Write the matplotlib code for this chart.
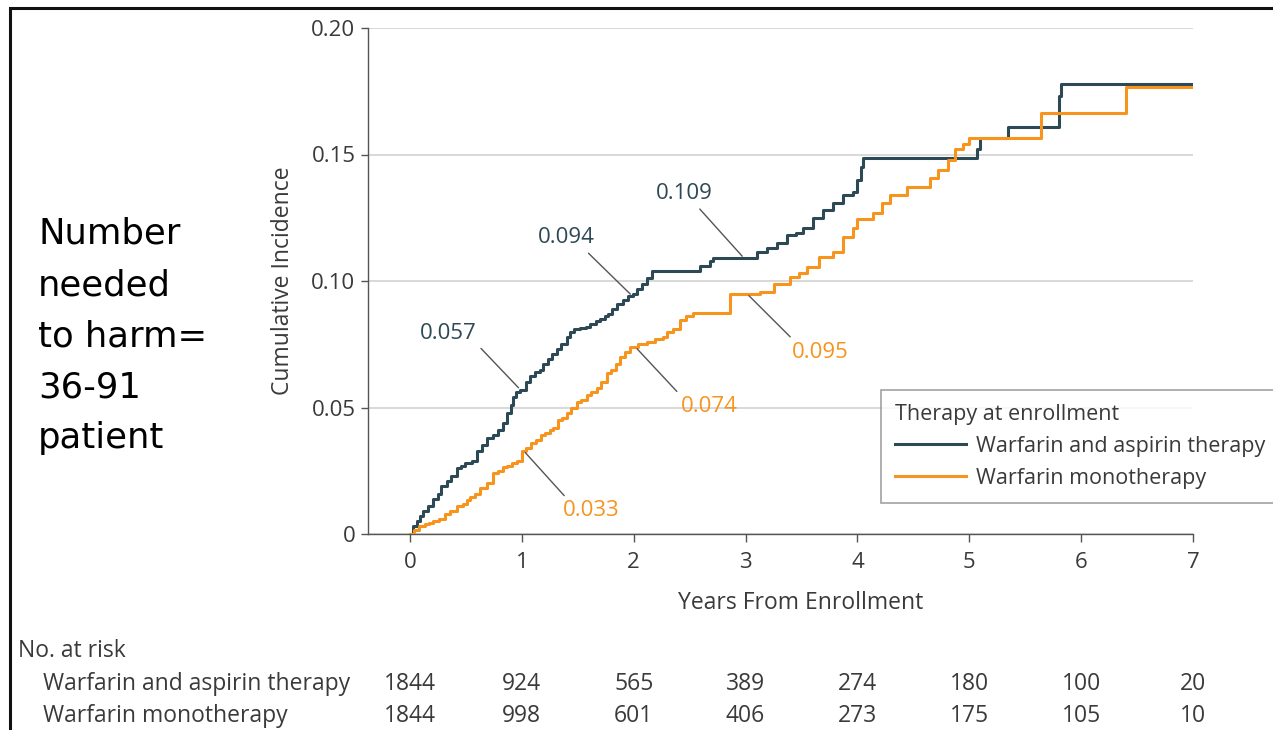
import matplotlib
matplotlib.use("Agg")
import matplotlib.pyplot as plt
from matplotlib.patches import Rectangle

plt.rcParams["font.family"] = ["Open Sans", "DejaVu Sans"]

DARK = "#2d4955"
ORANGE = "#f7941d"
INK = "#3a3a3a"

# cumulative incidence curves (step, post)
combo_t = [0, 0.03, 0.06, 0.09, 0.12, 0.16, 0.21, 0.25, 0.28, 0.33, 0.37, 0.42, 0.46, 0.49,
           0.55, 0.60, 0.64, 0.69, 0.74, 0.79, 0.83, 0.87, 0.90, 0.92, 0.95, 0.98, 1.04,
           1.07, 1.12, 1.16, 1.19, 1.23, 1.27, 1.31, 1.35, 1.40, 1.43, 1.47, 1.52, 1.57,
           1.61, 1.66, 1.70, 1.74, 1.77, 1.81, 1.85, 1.90, 1.95, 1.99, 2.03, 2.07, 2.12,
           2.16, 2.59, 2.68, 2.71, 3.10, 3.19, 3.28, 3.37, 3.45, 3.51, 3.60, 3.69, 3.78,
           3.87, 3.96, 4.0, 4.03, 4.05, 5.07, 5.10, 5.35, 5.80, 5.82, 7.0]
combo_y = [0, 0.003, 0.005, 0.007, 0.009, 0.011, 0.014, 0.016, 0.019, 0.021, 0.023, 0.026,
           0.027, 0.028, 0.029, 0.033, 0.035, 0.038, 0.039, 0.041, 0.044, 0.048, 0.051,
           0.054, 0.056, 0.057, 0.060, 0.0625, 0.064, 0.065, 0.067, 0.069, 0.071, 0.073,
           0.075, 0.078, 0.080, 0.081, 0.0815, 0.082, 0.083, 0.084, 0.085, 0.086, 0.087,
           0.089, 0.091, 0.0925, 0.094, 0.095, 0.097, 0.099, 0.101, 0.104, 0.106, 0.108,
           0.109, 0.1115, 0.113, 0.115, 0.118, 0.119, 0.121, 0.125, 0.128, 0.131, 0.134,
           0.135, 0.140, 0.145, 0.1485, 0.152, 0.1565, 0.161, 0.173, 0.178, 0.178]
mono_t = [0, 0.04, 0.08, 0.13, 0.17, 0.21, 0.26, 0.31, 0.36, 0.42, 0.47, 0.51, 0.54, 0.58,
          0.63, 0.69, 0.74, 0.79, 0.83, 0.87, 0.91, 0.96, 1.0, 1.04, 1.08, 1.13, 1.17, 1.21,
          1.25, 1.28, 1.32, 1.36, 1.40, 1.44, 1.49, 1.53, 1.58, 1.62, 1.67, 1.71, 1.76,
          1.80, 1.84, 1.88, 1.92, 1.97, 2.04, 2.12, 2.19, 2.26, 2.30, 2.35, 2.41, 2.47,
          2.53, 2.86, 3.13, 3.25, 3.40, 3.48, 3.55, 3.66, 3.78, 3.87, 3.96, 4.0, 4.14,
          4.22, 4.29, 4.44, 4.65, 4.72, 4.81, 4.87, 4.94, 5.0, 5.64, 6.40, 7.0]
mono_y = [0, 0.0015, 0.003, 0.004, 0.0045, 0.005, 0.006, 0.008, 0.009, 0.011, 0.012,
          0.0135, 0.0146, 0.016, 0.018, 0.020, 0.024, 0.025, 0.0265, 0.027, 0.028, 0.029,
          0.033, 0.034, 0.036, 0.037, 0.039, 0.040, 0.041, 0.042, 0.045, 0.046, 0.048,
          0.050, 0.052, 0.053, 0.055, 0.056, 0.0577, 0.060, 0.0636, 0.065, 0.067, 0.070,
          0.072, 0.074, 0.075, 0.076, 0.077, 0.078, 0.080, 0.081, 0.0846, 0.086, 0.0873,
          0.095, 0.0957, 0.099, 0.1016, 0.103, 0.1055, 0.1095, 0.1115, 0.1174, 0.121,
          0.1245, 0.127, 0.131, 0.134, 0.137, 0.1407, 0.144, 0.148, 0.152, 0.154, 0.1565,
          0.1664, 0.1767, 0.1767]

# labelled values at 1, 2, 3 years
label_years = [1, 2, 3]
combo_marks = [0.057, 0.094, 0.109]
mono_marks = [0.033, 0.074, 0.095]

years = [0, 1, 2, 3, 4, 5, 6, 7]
risk_combo = [1844, 924, 565, 389, 274, 180, 100, 20]
risk_mono = [1844, 998, 601, 406, 273, 175, 105, 10]
y_ticks = [0, 0.05, 0.10, 0.15, 0.20]
y_ticklabels = ["0", "0.05", "0.10", "0.15", "0.20"]
names = ["Warfarin and aspirin therapy", "Warfarin monotherapy"]

fig = plt.figure(figsize=(12.73, 7.30), dpi=100)
ax = fig.add_axes([368 / 1273, 1 - 534 / 730, 825 / 1273, 506 / 730])

ax.step(combo_t, combo_y, where="post", color=DARK, lw=2.2, zorder=3, label=names[0])
ax.step(mono_t, mono_y, where="post", color=ORANGE, lw=2.2, zorder=3, label=names[1])

ax.set_xlim(-0.3755, 7)
ax.set_ylim(0, 0.20)
ax.set_xticks(years)
ax.set_yticks(y_ticks)
ax.set_yticklabels(y_ticklabels)
ax.grid(axis="y", color="#d6d6d6", lw=1.3, zorder=0)
for s in ("top", "right"):
    ax.spines[s].set_visible(False)
for s in ("left", "bottom"):
    ax.spines[s].set_color("#555555")
    ax.spines[s].set_linewidth(1.0)
ax.tick_params(axis="y", length=5, width=1, color="#555555", pad=4, labelsize=16, labelcolor=INK)
ax.tick_params(axis="x", length=6, width=1, color="#555555", pad=7, labelsize=16, labelcolor=INK)

ax.set_xlabel("Years From Enrollment", fontsize=16.5, color=INK)
ax.set_ylabel("Cumulative Incidence", fontsize=16.5, color=INK)
ax.xaxis.set_label_coords(0.525, -0.113)
ax.yaxis.set_label_coords(-0.088, 0.5)

# leader-line labels: (text x, text y, relpos)
combo_txt = [(0.34, 0.0794, (1.0, 0.0)), (1.40, 0.117, (0.8, 0.0)), (2.45, 0.1345, (0.7, 0.0))]
mono_txt = [(1.62, 0.0091, (0.1, 1.0)), (2.68, 0.0503, (0.0, 1.0)), (3.67, 0.0719, (0.05, 1.0))]
for yr, v, (tx, ty, rp) in zip(label_years, combo_marks, combo_txt):
    ax.annotate(f"{v:.3f}", xy=(yr - 0.03, v + 0.0008), xytext=(tx, ty), ha="center", va="center",
                fontsize=16, color=DARK, zorder=4,
                arrowprops=dict(arrowstyle="-", color="#555555", lw=1.0, relpos=rp,
                                shrinkA=2, shrinkB=0))
for yr, v, (tx, ty, rp) in zip(label_years, mono_marks, mono_txt):
    ax.annotate(f"{v:.3f}", xy=(yr + 0.03, v - 0.0008), xytext=(tx, ty), ha="center", va="center",
                fontsize=16, color=ORANGE, zorder=4,
                arrowprops=dict(arrowstyle="-", color="#555555", lw=1.0, relpos=rp,
                                shrinkA=2, shrinkB=0))

leg = ax.legend(loc="upper left", bbox_to_anchor=(881 / 1273, 1 - 390 / 730),
                bbox_transform=fig.transFigure, title="Therapy at enrollment",
                fontsize=15.5, title_fontsize=15.5, frameon=True, fancybox=False,
                edgecolor="#8a8a8a", handlelength=3.3, handletextpad=0.45,
                borderpad=0.65, labelspacing=0.5, borderaxespad=0, alignment="left")
leg.get_frame().set_linewidth(1.2)
for t in leg.get_texts():
    t.set_color(INK)
leg.get_title().set_color(INK)

# number at risk table
xt = ax.get_xaxis_transform()
ax.text(-0.424, -0.231, "No. at risk", transform=ax.transAxes, fontsize=16.5, color=INK,
        ha="left", va="center")
for row, (name, counts) in enumerate(zip(names, [risk_combo, risk_mono])):
    ry = -0.2965 - row * 0.0633
    ax.text(-0.394, ry, name, transform=ax.transAxes, fontsize=16.5, color=INK,
            ha="left", va="center")
    for yr, n in zip(years, counts):
        ax.text(yr, ry, str(n), transform=xt, fontsize=16.5, color=INK,
                ha="center", va="center", clip_on=False)

fig.text(38 / 1273, 1 - 217 / 730, "Number\nneeded\nto harm=\n36-91\npatient",
         fontsize=25.5, family=["DejaVu Sans"], color="black", ha="left", va="top",
         linespacing=1.63)

fig.patches.append(Rectangle((10 / 1273, -0.1), 1.2, 1.1 - 8 / 730, transform=fig.transFigure,
                             fill=False, ec="#111111", lw=2.2))

fig.savefig("out.png", dpi=100)
